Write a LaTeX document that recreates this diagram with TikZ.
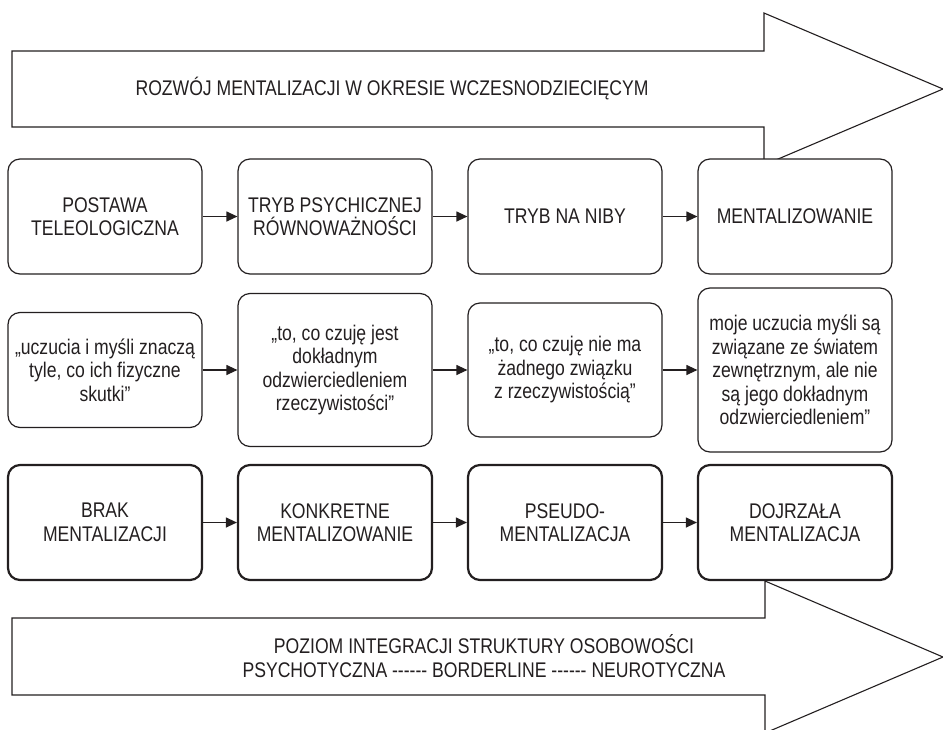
\documentclass[tikz,border=0pt]{standalone}
\usepackage{fontspec}
\setmainfont{Liberation Sans}[FakeStretch=0.83, Ligatures=TeXOff]
\usepackage{tikz}
\usetikzlibrary{arrows.meta}
\definecolor{ink}{RGB}{35,31,32}

\begin{document}
\begin{tikzpicture}[x=1pt, y=-1pt, color=ink,
  font=\fontsize{21.2}{23.5}\selectfont,
  stage/.style={draw, fill=white, rounded corners=12pt, line width=1.2pt,
    minimum width=194pt, minimum height=115pt, align=center, inner sep=2pt},
  level/.style={stage, line width=2.2pt},
  bigarrow/.style={draw, fill=white, line width=1.1pt},
  link/.style={-{Triangle[length=11pt, width=10pt]}, line width=1.2pt}]
  \clip (0, 0) rectangle (943, 729);
  % duze strzalki w tle
  \draw[bigarrow] (12, 51) -- (764, 51) -- (764, 13) -- (943, 89) -- (764, 165) -- (764, 127) -- (12, 127) -- cycle;
  \node (rozwoj) at (392, 89) {ROZWÓJ MENTALIZACJI W OKRESIE WCZESNODZIECIĘCYM};
  \draw[bigarrow] (12, 618) -- (765, 618) -- (765, 581) -- (943, 657) -- (765, 733) -- (765, 695) -- (12, 695) -- cycle;
  \node[align=center] (poziom) at (484, 656) {POZIOM INTEGRACJI STRUKTURY OSOBOWOŚCI\\PSYCHOTYCZNA ------ BORDERLINE ------ NEUROTYCZNA};
  % tryby
  \node[stage] (teleo)  at (105, 216.5) {POSTAWA\\TELEOLOGICZNA};
  \node[stage] (rownow) at (335, 216.5) {TRYB PSYCHICZNEJ\\RÓWNOWAŻNOŚCI};
  \node[stage] (niby)   at (565, 216.5) {TRYB NA NIBY};
  \node[stage] (mental) at (795, 216.5) {MENTALIZOWANIE};
  % opisy
  \node[stage] (skutki)  at (105, 370) {„uczucia i myśli znaczą\\tyle, co ich fizyczne\\skutki”};
  \node[stage, minimum height=153pt] (odzw) at (335, 370) {„to, co czuję jest\\dokładnym\\odzwierciedleniem\\rzeczywistości”};
  \node[stage, minimum height=134pt] (zwiazek) at (565, 370) {„to, co czuję nie ma\\żadnego związku\\z rzeczywistością”};
  \node[stage, minimum height=164pt] (swiat) at (795, 370) {moje uczucia myśli są\\związane ze światem\\zewnętrznym, ale nie\\są jego dokładnym\\odzwierciedleniem”};
  % poziomy mentalizacji
  \node[level] (brak)    at (105, 522.5) {BRAK\\MENTALIZACJI};
  \node[level] (konkret) at (335, 522.5) {KONKRETNE\\MENTALIZOWANIE};
  \node[level] (pseudo)  at (565, 522.5) {PSEUDO-\\MENTALIZACJA};
  \node[level] (dojrz)   at (795, 522.5) {DOJRZAŁA\\MENTALIZACJA};
  % polaczenia
  \draw[link] (teleo) -- (rownow);
  \draw[link] (rownow) -- (niby);
  \draw[link] (niby) -- (mental);
  \draw[link] (skutki) -- (odzw);
  \draw[link] (odzw) -- (zwiazek);
  \draw[link] (zwiazek) -- (swiat);
  \draw[link] (brak) -- (konkret);
  \draw[link] (konkret) -- (pseudo);
  \draw[link] (pseudo) -- (dojrz);
\end{tikzpicture}
\end{document}
